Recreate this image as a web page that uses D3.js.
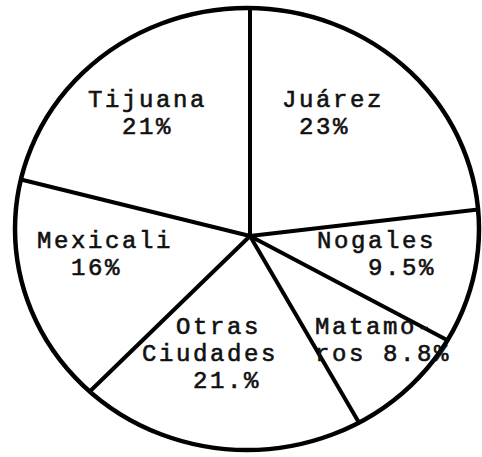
<!DOCTYPE html>
<html>
<head>
<meta charset="utf-8">
<script src="https://cdn.jsdelivr.net/npm/d3@7"></script>
<style>
  body { margin: 0; background: #fff; }
  svg { display: block; }
  text { font-family: "Liberation Mono", "DejaVu Sans Mono", monospace; font-size: 24px; letter-spacing: 2.6px; fill: #111; stroke: #111; stroke-width: 0.6px; }
</style>
</head>
<body>
<svg id="chart" width="482" height="457"></svg>
<script>
// share of each city (clockwise from the top)
var cities = ["Juárez", "Nogales", "Matamoros", "Otras Ciudades", "Mexicali", "Tijuana"];
var shares = [23, 9.5, 8.8, 21, 16, 21];
// labels as printed in the chart, one entry per line
var labelLines = [
  ["Juárez", " 23%"],
  ["Nogales", "   9.5%"],
  ["Matamo-", "ros 8.8%"],
  ["  Otras", "Ciudades", "   21.%"],
  ["Mexicali", "  16%"],
  ["Tijuana", "  21%"]
];

var width = 482, height = 457
// the hand drawn outline is a bit flat and the spokes meet a little below its middle
var cx = 247, cy = 229
var rx = 232, ry = 221
var hub = [250, 236]

// where each label's first line starts (x, baseline)
var labelAt = [[282, 107], [317, 248], [315, 334], [142, 334], [37, 248], [88, 107]]
var lineGap = 27

var data = cities.map((c, i) => ({city: c, share: shares[i], lines: labelLines[i]}))

var pie = d3.pie().sort(null).value(d => d.share)
var slices = pie(data)

// point where a ray from the hub at angle a (clockwise from up) meets the outline
function rim(a) {
  var ux = Math.sin(a), uy = -Math.cos(a)
  var dx = hub[0] - cx, dy = hub[1] - cy
  var A = ux * ux / (rx * rx) + uy * uy / (ry * ry)
  var B = 2 * (dx * ux / (rx * rx) + dy * uy / (ry * ry))
  var C = dx * dx / (rx * rx) + dy * dy / (ry * ry) - 1
  var t = (-B + Math.sqrt(B * B - 4 * A * C)) / (2 * A)
  return [hub[0] + t * ux, hub[1] + t * uy]
}

const svg = d3.select("#chart")

svg.append("ellipse")
  .attr("cx", cx)
  .attr("cy", cy)
  .attr("rx", rx)
  .attr("ry", ry)
  .attr("fill", "#fff")
  .attr("stroke", "#000")
  .attr("stroke-width", 4.5)

svg.append("g")
  .selectAll("line")
  .data(slices)
  .join("line")
    .attr("x1", hub[0])
    .attr("y1", hub[1])
    .attr("x2", d => rim(d.startAngle)[0])
    .attr("y2", d => rim(d.startAngle)[1])
    .attr("stroke", "#000")
    .attr("stroke-width", 4)
    .attr("stroke-linecap", "round")

var labels = svg.append("g")
  .selectAll("text")
  .data(data)
  .join("text")
    .attr("x", (d, i) => labelAt[i][0])
    .attr("y", (d, i) => labelAt[i][1])
    .attr("xml:space", "preserve")

labels.selectAll("tspan")
  .data((d, i) => d.lines.map((t, j) => ({t: t, x: labelAt[i][0], y: labelAt[i][1] + j * lineGap})))
  .join("tspan")
    .attr("x", d => d.x)
    .attr("y", d => d.y)
    .text(d => d.t)
</script>
</body>
</html>
